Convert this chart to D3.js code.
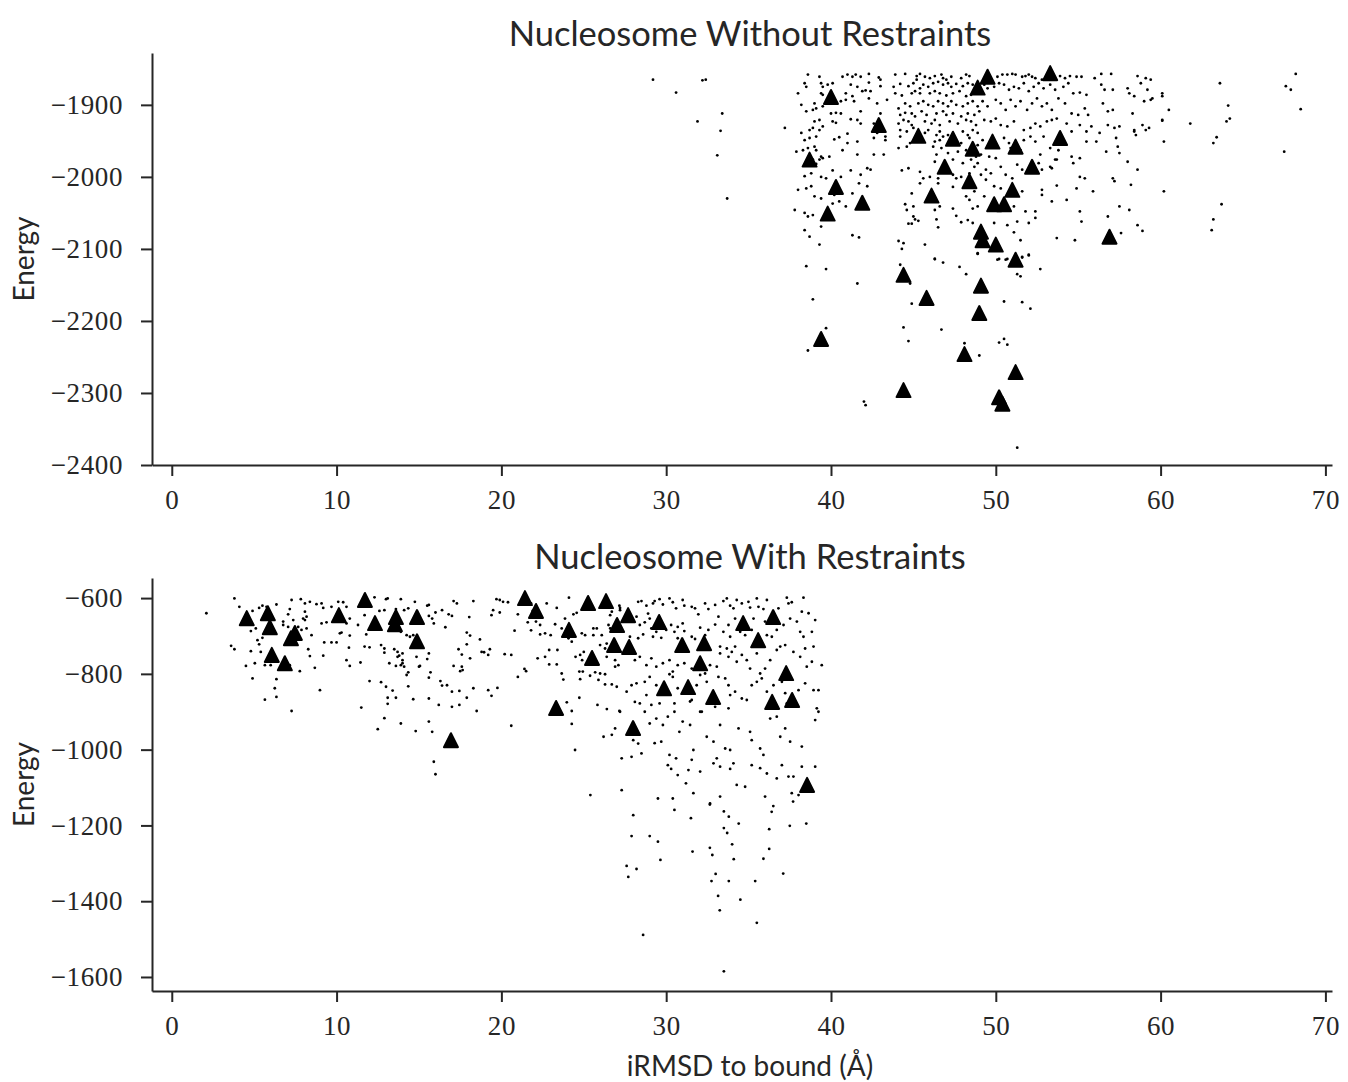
<!DOCTYPE html>
<html>
<head>
<meta charset="utf-8">
<script src="https://cdn.jsdelivr.net/npm/d3@7"></script>
<style>
  body { margin: 0; background: #ffffff; }
  #chart { width: 1348px; height: 1082px; }
</style>
</head>
<body>
<div id="chart"></div>
<script>
// ---- values ----
const xTicks = [0, 10, 20, 30, 40, 50, 60, 70];
const topYTicks = [-2400, -2300, -2200, -2100, -2000, -1900];
const bottomYTicks = [-1600, -1400, -1200, -1000, -800, -600];
const topTitle = 'Nucleosome Without Restraints';
const bottomTitle = 'Nucleosome With Restraints';
const yLabel = 'Energy';
const xLabel = 'iRMSD to bound (Å)';

// [iRMSD, energy]
const topDots = [
  [38.6,-1858],[39.3,-1861],[40.7,-1861],[41.0,-1858],[41.3,-1861],[41.5,-1858],[41.8,-1861],[42.3,-1857],[42.9,-1862],[43.0,-1865],[43.9,-1858],[44.5,-1857],[45.2,-1860],[45.4,-1857],[45.7,-1861],[46.0,-1863],[46.3,-1860],[46.7,-1858],[46.8,-1863],[47.0,-1865],[47.3,-1861],[47.9,-1863],[48.2,-1858],[48.4,-1860],
  [38.4,-1870],[38.5,-1875],[39.4,-1870],[39.5,-1875],[39.8,-1872],[40.1,-1870],[41.2,-1872],[41.6,-1875],[42.3,-1869],[43.0,-1874],[43.8,-1875],[44.2,-1871],[44.7,-1874],[45.0,-1870],[45.2,-1865],[45.4,-1877],[45.6,-1872],[45.9,-1875],[46.2,-1870],[46.5,-1868],[46.8,-1872],[47.1,-1870],[47.3,-1875],[47.6,-1871],[48.0,-1874],[48.3,-1870],[48.6,-1872],
  [38.0,-1884],[39.4,-1884],[39.5,-1886],[40.9,-1884],[41.3,-1888],[41.9,-1881],[42.1,-1880],[42.4,-1881],[43.9,-1884],[44.3,-1887],[44.9,-1884],[45.1,-1881],[45.4,-1884],[46.0,-1884],[46.3,-1881],[46.6,-1884],[47.0,-1887],[47.4,-1884],[47.8,-1881],[48.2,-1888],[48.5,-1886],
  [38.2,-1900],[39.0,-1898],[39.5,-1902],[40.6,-1895],[40.9,-1893],[41.4,-1895],[42.3,-1891],[42.8,-1898],[43.4,-1893],[44.1,-1905],[44.5,-1898],[44.8,-1902],[45.3,-1898],[45.6,-1895],[45.9,-1900],[46.2,-1902],[46.5,-1895],[46.8,-1898],[47.1,-1902],[47.3,-1895],[47.6,-1900],[48.0,-1902],[48.3,-1898],[48.6,-1895],[48.9,-1902],
  [38.5,-1909],[38.9,-1907],[39.1,-1905],[40.0,-1912],[40.3,-1911],[40.6,-1912],[41.8,-1909],[43.0,-1912],[44.2,-1914],[44.5,-1911],[44.9,-1912],[45.1,-1916],[45.5,-1909],[45.8,-1914],[46.4,-1912],[46.8,-1909],[47.0,-1914],[47.4,-1912],[47.9,-1916],[48.3,-1912],[48.7,-1914],[49.0,-1909],
  [39.0,-1923],[39.3,-1921],[40.1,-1923],[40.3,-1925],[41.2,-1920],[41.6,-1921],[41.8,-1926],[42.6,-1926],[44.1,-1926],[44.4,-1921],[44.7,-1923],[44.9,-1928],[45.7,-1923],[46.1,-1926],[46.3,-1921],[46.6,-1928],[47.2,-1923],[47.7,-1926],[48.2,-1921],[48.5,-1923],[48.8,-1928],
  [37.2,-1932],[38.7,-1935],[38.9,-1932],[39.3,-1935],[39.5,-1930],[41.0,-1940],[42.6,-1935],[42.8,-1939],[43.3,-1944],[44.2,-1935],[44.6,-1937],[45.0,-1932],[45.7,-1939],[45.9,-1935],[46.4,-1942],[46.6,-1937],[46.8,-1944],[47.1,-1942],[48.0,-1937],[48.3,-1942],[48.6,-1935],[48.9,-1939],
  [38.2,-1939],[38.4,-1949],[38.7,-1946],[39.1,-1944],[40.2,-1948],[40.5,-1945],[41.0,-1953],[41.6,-1951],[42.6,-1946],[43.3,-1949],[44.2,-1944],[44.6,-1958],[44.8,-1953],[45.6,-1951],[46.3,-1951],[46.6,-1949],[46.7,-1960],[47.9,-1953],[48.4,-1946],[48.9,-1956],
  [37.9,-1965],[38.3,-1963],[38.6,-1960],[39.0,-1958],[39.1,-1963],[39.4,-1972],[39.9,-1972],[40.7,-1963],[41.6,-1969],[42.6,-1969],[43.2,-1969],[44.1,-1960],[46.2,-1958],[46.4,-1969],[47.1,-1967],[47.7,-1965],[48.2,-1963],[48.8,-1972],[49.1,-1969],
  [38.9,-1976],[39.3,-1976],[39.5,-1974],[39.1,-1982],[46.3,-1979],[47.4,-1976],[48.0,-1981],[48.5,-1976],[48.7,-1986],[48.9,-1981],
  [38.4,-1999],[38.8,-1995],[39.4,-2000],[39.7,-2002],[40.1,-1991],[40.6,-2000],[41.2,-1991],[41.8,-1997],[42.2,-1988],[42.4,-1990],[44.3,-1991],[44.7,-1988],[45.4,-1993],[46.0,-2000],[46.5,-2002],[47.4,-1997],[47.6,-2002],[47.9,-2000],[48.4,-1995],[49.1,-1997],
  [38.0,-2018],[38.5,-2016],[38.8,-2013],[39.0,-2027],[39.4,-2030],[40.2,-2025],[41.3,-2023],[41.7,-2009],[42.2,-2013],[44.9,-2023],[45.4,-2009],[45.6,-2002],[46.5,-2009],[47.4,-2014],[48.7,-2020],[48.2,-2027],
  [37.8,-2046],[38.4,-2050],[38.6,-2055],[38.9,-2053],[40.1,-2037],[40.5,-2034],[40.9,-2041],[44.5,-2038],[44.6,-2046],[45.0,-2041],[46.3,-2046],[46.6,-2041],[47.4,-2044],[48.4,-2032],[48.6,-2044],[48.9,-2041],
  [38.4,-2074],[38.7,-2083],[39.4,-2069],[41.3,-2081],[41.7,-2084],[44.7,-2065],[44.9,-2065],[45.0,-2055],[45.1,-2059],[45.3,-2061],[46.4,-2059],[46.5,-2070],[47.6,-2054],[47.9,-2063],[48.3,-2060],[48.6,-2064],
  [39.3,-2094],[44.1,-2089],[44.4,-2092],[44.3,-2100],[45.7,-2094],[46.3,-2114],[48.9,-2106],
  [50.1,-1861],[50.4,-1858],[50.7,-1858],[51.0,-1857],[51.2,-1858],[51.6,-1861],[51.8,-1860],[52.0,-1858],[52.2,-1861],[52.4,-1863],[52.8,-1865],[53.1,-1861],[53.9,-1860],[54.2,-1863],[54.5,-1860],[54.9,-1861],[55.2,-1861],[56.0,-1863],[56.4,-1857],[57.0,-1857],[58.6,-1860],[59.1,-1863],[59.4,-1865],
  [49.3,-1872],[49.5,-1877],[49.9,-1875],[50.2,-1870],[50.5,-1872],[50.8,-1879],[51.1,-1875],[51.4,-1877],[51.7,-1870],[52.0,-1881],[52.3,-1875],[52.6,-1870],[52.9,-1877],[53.3,-1872],[53.6,-1879],[54.1,-1875],[54.4,-1870],[54.7,-1884],[55.1,-1883],[55.5,-1886],[56.4,-1872],[56.6,-1879],[57.1,-1879],[58.0,-1877],[58.1,-1884],[58.4,-1888],[58.8,-1870],[59.2,-1879],[59.5,-1891],[60.1,-1884],
  [49.2,-1895],[49.5,-1902],[50.0,-1893],[50.3,-1898],[50.6,-1907],[50.9,-1893],[51.2,-1902],[51.5,-1895],[51.9,-1907],[52.2,-1898],[52.5,-1891],[52.8,-1902],[53.1,-1898],[53.4,-1907],[53.8,-1891],[54.2,-1898],[54.6,-1912],[55.0,-1914],[55.4,-1905],[55.6,-1914],[56.5,-1898],[56.8,-1909],[57.1,-1907],[58.3,-1912],[59.0,-1895],[59.4,-1893],[60.5,-1907],[60.1,-1921],
  [49.3,-1921],[49.7,-1923],[50.0,-1919],[50.3,-1928],[50.7,-1930],[51.1,-1923],[51.7,-1935],[52.1,-1932],[52.4,-1926],[52.7,-1930],[53.1,-1923],[53.4,-1921],[53.7,-1919],[54.3,-1926],[54.6,-1937],[55.1,-1928],[55.5,-1937],[55.8,-1930],[56.3,-1939],[56.8,-1928],[57.2,-1932],[57.5,-1930],[58.4,-1935],[58.9,-1928],[59.1,-1935],[59.3,-1932],
  [49.2,-1949],[50.5,-1946],[50.8,-1953],[51.7,-1949],[52.1,-1944],[52.4,-1951],[52.9,-1944],[53.3,-1960],[53.8,-1963],[54.6,-1972],[55.1,-1974],[55.5,-1951],[56.1,-1951],[56.7,-1965],[57.3,-1946],[57.4,-1958],[57.5,-1967],[58.0,-1979],[58.4,-1937],[58.5,-1942],[58.6,-1990],[60.2,-1951],[49.6,-1972],[50.0,-1974],[50.9,-1960],[51.5,-1963],[52.7,-1969],[53.6,-1976],
  [49.4,-1990],[49.7,-1995],[50.3,-1986],[50.6,-1997],[51.0,-2002],[51.3,-1983],[51.6,-1990],[52.6,-1981],[52.8,-1990],[53.3,-1986],[53.7,-1976],[53.4,-1988],[54.7,-1981],[55.1,-2000],[55.4,-2002],[57.1,-2002],[57.2,-2006],[58.2,-2011],[49.4,-2004],[49.9,-2013],[50.3,-2016],[51.0,-2023],[51.6,-2020],[52.8,-2018],[52.8,-2025],[53.7,-2012],[54.9,-2016],[55.9,-2020],[60.2,-2020],
  [49.3,-2027],[51.1,-2041],[51.8,-2048],[52.4,-2048],[52.4,-2057],[53.4,-2034],[54.3,-2032],[55.1,-2048],[55.2,-2062],[56.8,-2055],[57.5,-2041],[58.1,-2046],[58.6,-2067],[58.9,-2075],[57.6,-2078],[49.9,-2064],[50.7,-2067],[51.3,-2062],[52.0,-2064],[51.1,-2077],[51.5,-2088],[53.7,-2085],[54.8,-2088],[52.0,-2108],[51.6,-2111],[50.7,-2114],[50.2,-2114],
  [60.1,-1888],[60.1,-1922],
  [61.8,-1926],[63.6,-1870],[64.1,-1901],[64.0,-1923],[64.2,-1919],[63.4,-1945],[63.2,-1953],[63.7,-2038],[63.2,-2059],[63.1,-2074],[67.5,-1965],[67.6,-1874],[67.9,-1879],[68.2,-1857],[68.5,-1906],
  [29.2,-1865],[32.2,-1866],[32.4,-1865],[30.6,-1883],[33.4,-1912],[31.9,-1923],[33.3,-1936],[33.1,-1970],[33.7,-2030],
  [38.5,-2124],[39.7,-2128],[41.6,-2148],[38.9,-2170],[39.7,-2210],[38.6,-2241],[44.2,-2122],[44.8,-2148],[44.9,-2176],[44.4,-2209],[44.7,-2228],[46.7,-2212],[46.3,-2114],[46.8,-2119],[47.8,-2125],[48.2,-2135],[48.9,-2107],[50.1,-2115],[50.6,-2115],[51.6,-2112],[52.0,-2109],[52.7,-2128],[51.3,-2135],[51.5,-2138],[50.5,-2173],[51.6,-2174],[52.1,-2183],[48.1,-2231],[49.0,-2248],[50.2,-2230],[50.5,-2225],[50.7,-2233],[42.0,-2312],[42.1,-2317],[51.3,-2376]
];

const topTriangles = [
  [40.0,-1889],[42.9,-1928],[45.3,-1943],[47.4,-1947],[48.6,-1961],[38.7,-1976],[46.9,-1986],[48.4,-2006],[40.3,-2014],[41.9,-2036],[46.1,-2026],[39.8,-2051],[48.9,-1876],[49.5,-1861],[53.3,-1856],[49.8,-1951],[51.2,-1958],[53.9,-1946],[52.2,-1986],[51.0,-2018],[49.9,-2038],[50.5,-2038],[49.1,-2076],[49.2,-2088],[50.0,-2094],[56.9,-2083],[51.2,-2115],[44.4,-2136],[49.1,-2151],[45.8,-2168],[49.0,-2189],[39.4,-2225],[48.1,-2246],[51.2,-2271],[44.4,-2296],[50.2,-2306],[50.4,-2315]
];

const bottomDots = [
  [2.1,-640],[3.8,-601],[4.1,-623],[4.9,-634],[5.3,-626],[5.5,-620],[5.75,-623],[6.35,-617],[7.27,-605],[7.16,-629],[7.06,-643],[7.37,-658],[7.83,-603],[8.08,-614],[8.38,-610],[8.08,-636],[8.18,-649],[8.08,-658],[7.97,-654],[8.78,-616],[9.09,-614],[9.19,-626],[9.69,-623],[10.1,-610],[10.4,-611],[10.6,-623],[10.8,-654],[10.6,-667],[9.09,-667],[9.39,-664],[6.76,-662],[6.76,-671],[7.06,-676],[7.67,-676],[7.87,-684],[8.18,-680],[8.48,-698],[10.2,-693],[10.3,-691],[10.8,-699],[11.3,-671],[11.7,-645],[12.3,-598],[12.6,-634],[12.9,-632],[13.0,-603],[13.1,-601],[13.6,-629],[13.9,-603],[14.1,-632],[14.35,-627],[14.75,-610],[13.7,-669],[13.9,-689],[14.25,-698],[14.45,-702],[14.65,-698],
  [4.8,-687],[5.1,-680],[5.5,-705],[5.2,-711],[5.3,-722],[3.6,-726],[3.8,-735],[4.8,-740],[5.4,-742],[5.04,-772],[4.5,-779],[5.65,-777],[6.0,-777],[7.16,-777],[7.77,-793],[8.28,-735],[8.38,-753],[8.68,-784],[9.25,-717],[9.19,-752],[9.69,-717],[10.0,-717],[10.75,-731],[10.6,-764],[10.8,-779],[11.45,-770],[11.7,-728],[12.0,-730],[11.8,-696],[12.7,-724],[12.9,-733],[12.9,-744],[13.2,-772],[13.5,-735],[13.7,-742],[13.8,-752],[14.0,-746],[13.7,-755],[14.0,-764],[14.0,-772],[13.6,-779],[13.9,-777],[14.1,-781],[14.35,-796],[14.25,-803],[14.85,-755],[15.0,-781],
  [4.9,-812],[6.35,-814],[6.25,-838],[6.35,-861],[5.65,-868],[8.99,-843],[7.27,-898],[11.5,-889],[12.0,-819],[12.7,-822],[13.0,-834],[13.4,-844],[13.1,-863],[13.1,-879],[13.6,-863],[14.35,-833],[14.65,-867],[12.9,-917],[12.5,-946],[13.9,-931],[14.8,-951],
  [15.5,-620],[15.6,-618],[15.6,-647],[15.8,-654],[15.9,-667],[16.0,-638],[16.4,-632],[16.8,-643],[17.0,-647],[16.6,-677],[17.1,-608],[17.3,-614],[18.3,-608],[18.05,-650],[17.9,-691],[18.1,-699],[18.7,-709],[19.5,-632],[19.4,-645],[19.7,-603],[19.9,-605],[20.1,-610],[20.4,-611],[19.9,-638],[21.0,-643],[20.8,-686],[21.6,-603],[21.8,-614],[21.9,-634],[22.1,-662],[21.6,-664],[21.8,-685],[22.35,-671],[22.65,-693],[22.35,-696],[22.75,-614],[22.99,-698],[23.26,-669],[23.36,-626],[24.1,-599],[23.86,-654],[24.37,-643],[24.57,-639],[23.66,-680],[24.07,-706],[24.27,-715],[24.88,-693],[25.08,-698],[25.58,-680],[25.79,-680],[25.58,-698],[26.09,-698],[26.5,-671],[26.6,-680],[26.7,-636],[26.6,-645],[27.16,-620],[27.2,-626],[26.39,-720],[25.99,-724],[26.29,-733],
  [15.6,-746],[15.5,-761],[15.06,-779],[15.7,-796],[15.6,-810],[16.3,-819],[16.4,-831],[16.7,-830],[17.0,-847],[17.45,-845],[17.4,-735],[17.6,-749],[17.1,-779],[17.6,-781],[17.65,-790],[17.5,-793],[18.1,-759],[17.9,-722],[18.8,-742],[18.95,-743],[19.3,-735],[19.2,-750],[20.2,-748],[20.6,-750],[21.0,-808],[21.4,-787],[21.5,-793],[22.2,-759],[22.65,-755],[22.9,-737],[23.4,-737],[22.9,-775],[23.36,-775],[23.66,-799],[23.76,-815],[24.5,-755],[24.78,-750],[24.9,-764],[25.0,-742],[24.73,-794],[24.94,-794],[24.78,-814],[25.38,-805],[25.69,-796],[25.99,-799],[26.29,-801],[25.89,-816],[26.29,-828],[26.7,-828],[27.0,-834],[26.9,-781],[27.1,-777],[26.39,-755],[26.9,-764],
  [15.6,-865],[16.2,-882],[17.0,-887],[17.45,-882],[17.9,-863],[18.3,-838],[18.5,-898],[19.2,-843],[19.4,-858],[19.76,-837],[15.6,-926],[15.8,-953],[15.9,-1032],[16.0,-1065],[20.6,-937],[23.97,-875],[24.27,-898],[24.27,-932],[24.73,-863],[24.47,-1001],[25.4,-1120],[25.83,-882],[26.4,-893],[27.16,-898],[26.9,-944],[26.7,-961],[26.2,-966],
  [28.3,-610],[28.5,-608],[28.8,-620],[29.2,-614],[29.3,-608],[29.6,-603],[29.8,-617],[30.2,-601],[30.4,-611],[30.6,-627],[31.0,-605],[31.1,-620],[31.55,-623],[31.75,-627],[31.95,-643],[32.36,-614],[32.56,-629],[32.97,-618],[33.47,-608],[33.68,-601],[33.88,-620],[34.08,-627],[34.28,-605],[34.59,-614],[34.99,-610],[35.09,-625],[35.5,-601],[35.6,-623],[35.9,-629],[36.11,-605],[36.81,-627],[37.32,-599],[37.42,-614],[37.62,-611],[38.23,-636],[38.33,-599],[38.64,-640],
  [27.2,-632],[28.2,-649],[28.4,-671],[28.7,-664],[28.9,-641],[29.0,-654],[29.1,-680],[29.4,-689],[30.0,-684],[30.3,-671],[30.5,-689],[30.7,-676],[31.0,-667],[31.1,-687],[31.55,-702],[32.06,-678],[32.36,-698],[32.56,-684],[32.97,-670],[33.17,-649],[33.47,-689],[33.78,-671],[33.88,-702],[34.18,-654],[34.49,-689],[34.79,-698],[35.19,-684],[35.3,-654],[36.0,-662],[36.11,-698],[36.41,-702],[36.71,-684],[37.12,-671],[37.52,-654],[37.93,-662],[38.13,-689],[38.33,-702],[38.84,-689],[39.04,-658],[27.8,-702],[28.3,-706],[28.6,-696],[29.2,-702],[29.7,-705],[30.7,-706],[31.75,-708],
  [28.1,-764],[28.4,-755],[28.8,-777],[29.1,-759],[29.4,-781],[29.8,-772],[30.2,-764],[30.4,-794],[30.7,-777],[31.1,-772],[31.55,-786],[32.36,-799],[32.66,-777],[33.07,-781],[33.27,-746],[33.78,-755],[33.98,-742],[34.28,-768],[34.59,-750],[34.89,-764],[35.09,-786],[35.5,-746],[35.7,-799],[36.0,-786],[36.31,-764],[36.71,-737],[36.92,-728],[37.22,-724],[37.72,-742],[38.13,-755],[38.43,-733],[38.53,-781],[38.84,-768],[38.94,-728],[39.44,-777],[33.27,-728],[33.68,-733],[34.18,-728],
  [27.6,-847],[27.9,-830],[28.2,-825],[28.7,-821],[28.8,-856],[28.1,-874],[28.4,-878],[29.0,-808],[29.4,-830],[30.2,-801],[30.4,-808],[30.7,-838],[31.55,-869],[31.85,-830],[32.06,-803],[32.46,-821],[33.17,-808],[33.58,-812],[33.78,-830],[33.88,-856],[34.18,-847],[34.59,-865],[34.89,-869],[35.19,-830],[35.5,-821],[35.8,-812],[36.11,-847],[36.51,-830],[37.02,-821],[37.22,-851],[37.32,-878],[38.03,-843],[38.43,-825],[38.94,-843],[39.24,-843],[39.14,-891],[27.2,-900],[29.1,-882],[29.6,-878],[30.5,-878],[31.45,-873],[32.16,-900],[32.97,-887],[33.78,-891],
  [28.0,-975],[28.3,-984],[28.5,-1010],[28.7,-900],[29.0,-931],[29.4,-918],[29.8,-935],[30.1,-913],[30.5,-900],[30.8,-953],[31.0,-926],[31.45,-935],[32.06,-900],[32.46,-966],[32.87,-979],[33.27,-935],[33.58,-997],[33.88,-1001],[34.39,-944],[35.09,-953],[35.19,-975],[35.7,-997],[35.9,-1014],[36.31,-918],[36.71,-913],[36.92,-966],[37.22,-944],[37.52,-979],[38.23,-992],[39.04,-922],[39.24,-900],[29.3,-983],[29.7,-979],[30.2,-1014],[30.6,-1023],[31.55,-1027],[27.3,-1023],[27.9,-1019],[33.07,-1023],
  [30.1,-1041],[30.3,-1051],[30.7,-1067],[31.35,-1054],[31.65,-1001],[32.06,-1058],[32.87,-1036],[33.27,-1045],[33.88,-1051],[34.08,-1036],[34.28,-1093],[34.79,-1098],[35.19,-1041],[35.7,-1049],[36.11,-1063],[36.71,-1076],[37.02,-1041],[37.42,-1071],[37.72,-1071],[38.23,-1045],[39.04,-1045],[37.62,-1115],[38.03,-1120],[27.3,-1107],[29.5,-1129],[30.4,-1129],[31.2,-1089],[31.65,-1115],[33.27,-1124],[36.0,-1124],[32.66,-1142],
  [28.0,-1173],[27.9,-1228],[29.0,-1228],[29.5,-1243],[29.65,-1291],[27.6,-1307],[28.2,-1315],[27.7,-1336],[28.6,-1489],[30.5,-1159],[31.5,-1181],[32.65,-1145],[33.5,-1163],[33.8,-1177],[34.4,-1195],[33.5,-1207],[33.7,-1220],[34.0,-1250],[31.6,-1269],[32.65,-1259],[32.8,-1278],[34.1,-1289],[33.0,-1328],[32.75,-1347],[33.8,-1347],[33.15,-1386],[34.5,-1396],[33.25,-1424],[35.5,-1457],[33.5,-1585],[36.5,-1149],[36.4,-1164],[36.25,-1210],[36.25,-1262],[35.9,-1288],[35.4,-1347],[37.1,-1327],[37.5,-1201],[38.5,-1195],[37.7,-1137]
];

const bottomTriangles = [
  [4.55,-653],[5.83,-640],[5.95,-677],[7.47,-692],[7.23,-706],[6.07,-750],[6.86,-772],[10.14,-645],[11.72,-605],[12.33,-666],[13.6,-650],[13.54,-669],[14.88,-650],[14.88,-714],
  [21.43,-600],[22.1,-634],[25.26,-613],[26.35,-608],[24.1,-684],[25.5,-758],[26.84,-724],[27.02,-671],[27.69,-645],[27.75,-729],[23.32,-890],[16.94,-975],
  [29.57,-663],[30.97,-724],[32.3,-719],[32.06,-772],[34.67,-666],[36.49,-650],[35.58,-711],[37.28,-798],[29.87,-838],[31.33,-835],[32.85,-861],[36.43,-874],[37.64,-869],[27.99,-943],[38.55,-1093]
];

// ---- drawing ----
const textColor = '#262626';
const serifFont = '"Liberation Serif", "DejaVu Serif", serif';
const sansFont = 'Lato, "Open Sans", sans-serif';

// matplotlib-like '^' marker: width == height, centred on its box
const triangleUp = {
  draw(context, size) {
    const h = Math.sqrt(size) / 2;
    context.moveTo(0, -h);
    context.lineTo(h, h);
    context.lineTo(-h, h);
    context.closePath();
  },
};

class ScatterPanel {
  constructor(svg, opts) {
    this.svg = svg;
    this.box = opts.box; // {left, right, top, bottom}
    this.xDomain = opts.xDomain;
    this.yDomain = opts.yDomain;
    this.yTicks = opts.yTicks;
    this.title = opts.title;
    this.titleY = opts.titleY;
    this.dots = opts.dots;
    this.triangles = opts.triangles;
    this.xScale = d3.scaleLinear().domain(this.xDomain).range([this.box.left, this.box.right]);
    this.yScale = d3.scaleLinear().domain(this.yDomain).range([this.box.bottom, this.box.top]);
    this.g = svg.append('g');
    this.draw();
  }

  styleAxis(g) {
    g.attr('font-family', serifFont).attr('font-size', 27);
    g.select('.domain').attr('stroke', textColor).attr('stroke-width', 2);
    g.selectAll('.tick line').attr('stroke', textColor).attr('stroke-width', 2);
    g.selectAll('.tick text').attr('fill', textColor).style('letter-spacing', '0.6px');
  }

  draw() {
    const xAxis = d3.axisBottom(this.xScale)
      .tickValues(xTicks)
      .tickSize(11)
      .tickSizeOuter(0)
      .tickPadding(14)
      .tickFormat(d3.format('d'));
    this.g.append('g')
      .attr('transform', 'translate(0,' + this.box.bottom + ')')
      .call(xAxis)
      .call((g) => this.styleAxis(g));

    const yAxis = d3.axisLeft(this.yScale)
      .tickValues(this.yTicks)
      .tickSize(11)
      .tickSizeOuter(0)
      .tickPadding(18)
      .tickFormat(d3.format('d'));
    this.g.append('g')
      .attr('transform', 'translate(' + this.box.left + ',0)')
      .call(yAxis)
      .call((g) => this.styleAxis(g));

    this.g.append('g')
      .selectAll('circle')
      .data(this.dots)
      .join('circle')
      .attr('cx', (d) => this.xScale(d[0]))
      .attr('cy', (d) => this.yScale(d[1]))
      .attr('r', 1.4)
      .attr('fill', '#000');

    const sym = d3.symbol().type(triangleUp).size(14 * 14);
    this.g.append('g')
      .selectAll('path')
      .data(this.triangles)
      .join('path')
      .attr('d', sym)
      .attr('transform', (d) => 'translate(' + this.xScale(d[0]) + ',' + this.yScale(d[1]) + ')')
      .attr('fill', '#000')
      .attr('stroke', '#000')
      .attr('stroke-width', 2)
      .attr('stroke-linejoin', 'round');

    this.g.append('text')
      .attr('x', 750)
      .attr('y', this.titleY)
      .attr('text-anchor', 'middle')
      .attr('font-family', sansFont)
      .attr('font-size', 34.5)
      .attr('fill', textColor)
      .text(this.title);

    const midY = (this.box.top + this.box.bottom) / 2;
    this.g.append('text')
      .attr('transform', 'translate(34,' + midY + ') rotate(-90)')
      .attr('text-anchor', 'middle')
      .attr('font-family', sansFont)
      .attr('font-size', 28)
      .attr('fill', textColor)
      .text(yLabel);
  }
}

const svg = d3.select('#chart')
  .append('svg')
  .attr('width', 1348)
  .attr('height', 1082)
  .style('background', '#fff');

new ScatterPanel(svg, {
  box: { left: 152, right: 1332, top: 53, bottom: 465 },
  xDomain: [-1.2, 70.4],
  yDomain: [-2400, -1828],
  yTicks: topYTicks,
  title: topTitle,
  titleY: 46,
  dots: topDots,
  triangles: topTriangles,
});

new ScatterPanel(svg, {
  box: { left: 152, right: 1332, top: 578, bottom: 991 },
  xDomain: [-1.2, 70.4],
  yDomain: [-1637, -547],
  yTicks: bottomYTicks,
  title: bottomTitle,
  titleY: 569,
  dots: bottomDots,
  triangles: bottomTriangles,
});

svg.append('text')
  .attr('x', 750)
  .attr('y', 1076)
  .attr('text-anchor', 'middle')
  .attr('font-family', sansFont)
  .attr('font-size', 28)
  .attr('fill', textColor)
  .text(xLabel);
</script>
